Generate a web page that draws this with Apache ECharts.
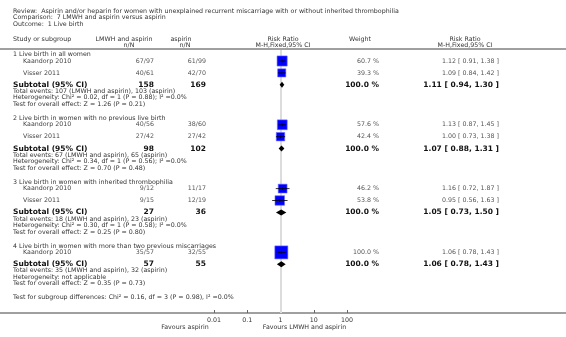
<!DOCTYPE html>
<html><head><meta charset="utf-8">
<script src="https://cdn.jsdelivr.net/npm/echarts@6/dist/echarts.min.js"></script>
<style>html,body{margin:0;padding:0;background:#fff}#c{width:566px;height:337px}</style>
</head><body><div id="c"></div>
<script>
// ---- data ----
const titleLines = [
  'Review:  Aspirin and/or heparin for women with unexplained recurrent miscarriage with or without inherited thrombophilia',
  'Comparison:  7 LMWH and aspirin versus aspirin',
  'Outcome:  1 Live birth'
];
const groupTitles = [
  '1 Live birth in all women',
  '2 Live birth in women with no previous live birth',
  '3 Live birth in women with inherited thrombophilia',
  '4 Live birth in women with more than two previous miscarriages'
];
const studyGroup = [0, 0, 1, 1, 2, 2, 3];
const studyNames = ['Kaandorp 2010', 'Visser 2011', 'Kaandorp 2010', 'Visser 2011', 'Kaandorp 2010', 'Visser 2011', 'Kaandorp 2010'];
const lmwhEvents = [67, 40, 40, 27, 9, 9, 35];
const lmwhTotal = [97, 61, 56, 42, 12, 15, 57];
const aspEvents = [61, 42, 38, 27, 11, 12, 32];
const aspTotal = [99, 70, 60, 42, 17, 19, 55];
const studyWeight = [60.7, 39.3, 57.6, 42.4, 46.2, 53.8, 100.0];
const studyRR = [1.12, 1.09, 1.13, 1.00, 1.16, 0.95, 1.06];
const studyLo = [0.91, 0.84, 0.87, 0.73, 0.72, 0.56, 0.78];
const studyHi = [1.38, 1.42, 1.45, 1.38, 1.87, 1.63, 1.43];
const subLMWH = [158, 98, 27, 57];
const subAsp = [169, 102, 36, 55];
const subWeight = [100.0, 100.0, 100.0, 100.0];
const subRR = [1.11, 1.07, 1.05, 1.06];
const subLo = [0.94, 0.88, 0.73, 0.78];
const subHi = [1.30, 1.31, 1.50, 1.43];
const totalEventsNotes = [
  'Total events: 107 (LMWH and aspirin), 103 (aspirin)',
  'Total events: 67 (LMWH and aspirin), 65 (aspirin)',
  'Total events: 18 (LMWH and aspirin), 23 (aspirin)',
  'Total events: 35 (LMWH and aspirin), 32 (aspirin)'
];
const heterogeneityNotes = [
  'Heterogeneity: Chi\u00b2 = 0.02, df = 1 (P = 0.88); I\u00b2 =0.0%',
  'Heterogeneity: Chi\u00b2 = 0.34, df = 1 (P = 0.56); I\u00b2 =0.0%',
  'Heterogeneity: Chi\u00b2 = 0.30, df = 1 (P = 0.58); I\u00b2 =0.0%',
  'Heterogeneity: not applicable'
];
const overallEffectNotes = [
  'Test for overall effect: Z = 1.26 (P = 0.21)',
  'Test for overall effect: Z = 0.70 (P = 0.48)',
  'Test for overall effect: Z = 0.25 (P = 0.80)',
  'Test for overall effect: Z = 0.35 (P = 0.73)'
];
const subgroupNote = 'Test for subgroup differences: Chi\u00b2 = 0.16, df = 3 (P = 0.98), I\u00b2 =0.0%';
const tickValues = [0.01, 0.1, 1, 10, 100];
const tickLabels = ['0.01', '0.1', '1', '10', '100'];
const favourLeft = 'Favours aspirin';
const favourRight = 'Favours LMWH and aspirin';

// ---- layout ----
const FONT = '"DejaVu Sans", Verdana, sans-serif';
const FS = 6.3, FB = 7.5;
const W = 566, H = 337;
const X = {note: 13, study: 23, lmwh: 154, asp: 206, weight: 379, rr: 499};
const f2 = v => v.toFixed(2);
const ciText = (r, l, h) => f2(r) + ' [ ' + f2(l) + ', ' + f2(h) + ' ]';

const texts = [];
function txt(x, y, s, opt) {
  opt = opt || {};
  const align = opt.align || 'left';
  texts.push({
    type: 'text', x: x, y: y, silent: true, z: 10,
    style: {
      text: s, x: 0, y: 0,
      fill: opt.color || '#333',
      fontSize: opt.size || FS,
      fontFamily: FONT,
      fontWeight: opt.bold ? 'bold' : 'normal',
      align: align, textAlign: align,
      verticalAlign: 'middle', textVerticalAlign: 'middle'
    }
  });
}

// titles
titleLines.forEach((t, i) => txt(13, 11 + i * 6.7, t, {color: '#333'}));
// header
txt(13, 39, 'Study or subgroup');
txt(124, 39, 'LMWH and aspirin', {align: 'center'});
txt(129, 45, 'n/N', {align: 'center'});
txt(181, 39, 'aspirin', {align: 'center'});
txt(185, 45, 'n/N', {align: 'center'});
txt(283, 39, 'Risk Ratio', {align: 'center'});
txt(283, 45, 'M-H,Fixed,95% CI', {align: 'center'});
txt(360, 39, 'Weight', {align: 'center'});
txt(465, 39, 'Risk Ratio', {align: 'center'});
txt(465, 45, 'M-H,Fixed,95% CI', {align: 'center'});

const studyData = [];
const subData = [];
let y = 54.5;
let lastNoteY = 0;
groupTitles.forEach((g, gi) => {
  txt(X.note, y, g);
  y += 6.5;
  studyGroup.forEach((sg, i) => {
    if (sg !== gi) return;
    txt(X.study, y, studyNames[i], {color: '#444'});
    txt(X.lmwh, y, lmwhEvents[i] + '/' + lmwhTotal[i], {align: 'right', color: '#555'});
    txt(X.asp, y, aspEvents[i] + '/' + aspTotal[i], {align: 'right', color: '#555'});
    txt(X.weight, y, studyWeight[i].toFixed(1) + ' %', {align: 'right', color: '#555'});
    txt(X.rr, y, ciText(studyRR[i], studyLo[i], studyHi[i]), {align: 'right', color: '#555'});
    studyData.push([studyRR[i], studyLo[i], studyHi[i], y, studyWeight[i]]);
    y += 11.9;
  });
  txt(X.note, y, 'Subtotal (95% CI)', {bold: true, size: FB, color: '#111'});
  txt(X.lmwh, y, String(subLMWH[gi]), {bold: true, size: FB, color: '#111', align: 'right'});
  txt(X.asp, y, String(subAsp[gi]), {bold: true, size: FB, color: '#111', align: 'right'});
  txt(X.weight, y, subWeight[gi].toFixed(1) + ' %', {bold: true, size: FB, color: '#111', align: 'right'});
  txt(X.rr, y, ciText(subRR[gi], subLo[gi], subHi[gi]), {bold: true, size: FB, color: '#111', align: 'right'});
  subData.push([subRR[gi], subLo[gi], subHi[gi], y]);
  y += 6.5;
  [totalEventsNotes[gi], heterogeneityNotes[gi], overallEffectNotes[gi]].forEach(n => {
    txt(X.note, y, n);
    lastNoteY = y;
    y += 6.5;
  });
  y += 7.5;
});
txt(X.note, lastNoteY + 13.7, subgroupNote);
txt(185, 327, favourLeft, {align: 'center'});
txt(304.5, 327, favourRight, {align: 'center'});

const lines = [
  {type: 'line', silent: true, z: 0, shape: {x1: 0, y1: 49, x2: W, y2: 49}, style: {stroke: '#a0a0a0', lineWidth: 2}},
  {type: 'line', silent: true, z: 0, shape: {x1: 0, y1: 313, x2: W, y2: 313}, style: {stroke: '#a0a0a0', lineWidth: 2}}
];

const chart = echarts.init(document.getElementById('c'), null, {renderer: 'canvas'});
chart.setOption({
  animation: false,
  backgroundColor: '#fff',
  grid: {left: 214, right: 219, top: 50, bottom: 24},
  xAxis: {
    type: 'log', logBase: 10, min: tickValues[0], max: tickValues[tickValues.length - 1],
    axisLine: {show: false},
    axisTick: {show: true, inside: true, length: 3, lineStyle: {color: '#666', width: 1}},
    axisLabel: {fontSize: FS, fontFamily: FONT, color: '#333', margin: 4,
      formatter: v => { const i = tickValues.findIndex(t => Math.abs(Math.log10(t) - Math.log10(v)) < 1e-6); return i >= 0 ? tickLabels[i] : ''; }},
    splitLine: {show: false}
  },
  yAxis: {type: 'value', min: 50, max: 313, inverse: true, show: false},
  graphic: lines.concat(texts),
  series: [
    {
      type: 'line', data: [], z: 1, silent: true,
      markLine: {
        silent: true, symbol: 'none', label: {show: false}, z: 1,
        lineStyle: {color: '#dcdcdc', width: 2, type: 'solid'},
        data: [{xAxis: 1}]
      }
    },
    {
      type: 'custom', silent: true, z: 5,
      data: studyData,
      encode: {x: [0, 1, 2], y: 3},
      renderItem: (params, api) => {
        const c = api.coord([api.value(0), api.value(3)]);
        const l = api.coord([api.value(1), api.value(3)]);
        const h = api.coord([api.value(2), api.value(3)]);
        const s = 13 * Math.sqrt(api.value(4) / 100);
        return {type: 'group', children: [
          {type: 'rect', shape: {x: c[0] - s / 2, y: c[1] - s / 2, width: s, height: s}, style: {fill: '#0000ff', stroke: '#6b6bff', lineWidth: 0.6}},
          {type: 'line', shape: {x1: l[0], y1: l[1], x2: h[0], y2: h[1]}, style: {stroke: '#000', lineWidth: 0.8}},
          {type: 'line', shape: {x1: c[0], y1: c[1] - 1.5, x2: c[0], y2: c[1] + 1.5}, style: {stroke: '#000', lineWidth: 0.6}}
        ]};
      }
    },
    {
      type: 'custom', silent: true, z: 5,
      data: subData,
      encode: {x: [0, 1, 2], y: 3},
      renderItem: (params, api) => {
        const c = api.coord([api.value(0), api.value(3)]);
        const l = api.coord([api.value(1), api.value(3)]);
        const h = api.coord([api.value(2), api.value(3)]);
        return {type: 'polygon', shape: {points: [[l[0], c[1]], [c[0], c[1] - 3], [h[0], c[1]], [c[0], c[1] + 3]]}, style: {fill: '#000'}};
      }
    }
  ]
});
</script></body></html>
